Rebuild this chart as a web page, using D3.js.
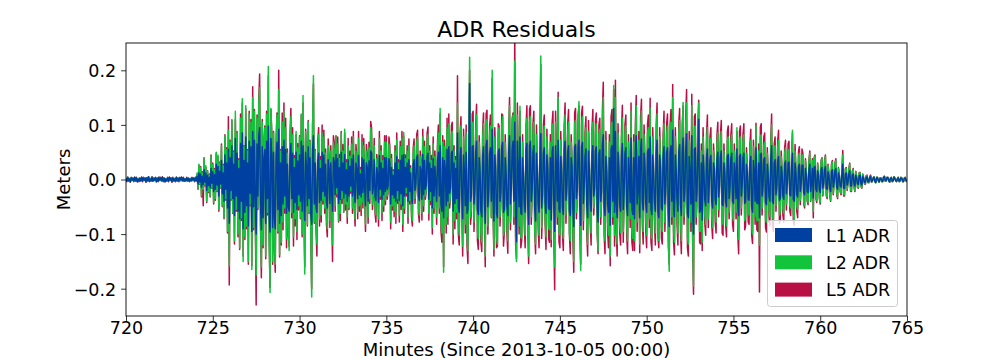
<!DOCTYPE html>
<html><head><meta charset="utf-8">
<script src="https://cdn.jsdelivr.net/npm/d3@7/dist/d3.min.js"></script>
<style>body{margin:0;background:#fff}text{font-family:"DejaVu Sans",sans-serif}</style>
</head><body><svg id="c" width="1008" height="360"></svg>
<script>
// Sample times: minutes since 2013-10-05 00:00, one sample every 0.05 min (3 s), 20 samples per row
const tStart = 720, tStep = 0.05;
// Residuals, in millimetres (converted to metres when drawn)
const L1_mm = [
2,-3,4,-2,1,-4,3,-1,2,-3,4,-2,3,-4,1,-3,2,-2,4,-3,
3,-1,2,-4,3,-2,5,-3,1,-2,4,-3,2,-1,3,-4,2,-3,4,-1,
3,-2,4,-3,2,-4,1,-2,3,-3,4,-1,2,-4,3,-2,1,-3,4,-2,
2,-3,3,-1,4,-2,3,-3,1,-2,3,-2,2,-3,1,-2,3,-1,2,-3,
3,-2,6,-8,12,-4,10,-14,6,-9,18,-5,12,-20,8,-11,4,-15,20,-7,
14,-22,9,-18,28,-10,24,-30,15,-8,35,-26,12,-40,45,-18,30,-52,55,-80,
40,-20,62,-35,28,-66,75,-30,48,-58,20,-72,66,-40,85,-90,35,-60,78,-48,
30,-85,70,-25,60,-95,88,-50,72,-40,-100,65,-30,80,95,-45,-92,60,-70,40,
55,-80,70,-35,98,-60,-96,75,45,-88,50,-70,-90,40,68,-55,92,-80,30,-66,
60,-45,72,-30,55,-62,28,-50,-58,40,66,-35,48,-60,22,-42,50,-55,34,-28,
45,-40,70,-58,62,-30,-75,50,22,-48,60,-35,40,-62,-82,55,80,-45,30,-50,
-60,35,48,-42,20,-38,50,-22,45,-30,28,-40,-52,36,20,-44,30,-25,-58,40,
32,-28,46,-15,38,-44,22,-36,50,-20,30,-34,46,-26,18,-40,36,-30,24,-12,
38,-30,45,-22,-42,30,18,-35,44,-28,10,-32,40,-24,36,-15,-48,30,22,-40,
34,-20,52,48,-26,-14,36,-30,-38,22,10,-42,44,-18,30,-36,20,-28,40,-22,
40,-18,-12,38,30,-45,22,-28,8,-34,30,-40,42,-20,18,-38,35,-26,44,-48,
46,-30,22,-14,30,-40,36,-22,12,-34,-44,28,36,-20,-8,40,45,-30,-38,24,
15,-36,46,-28,35,-18,-10,42,48,-36,30,-22,20,-52,38,-30,24,-8,-40,35,
50,-30,62,-45,-58,40,-70,35,18,-48,55,-40,60,-25,-15,48,52,-58,30,-44,
20,-35,85,-50,-60,42,58,-30,-72,45,14,-48,50,-62,-55,30,176,-40,-30,60,
62,-45,-18,50,70,-55,-64,40,12,-58,-68,44,60,-35,-80,62,72,-50,-20,48,
58,-40,92,-30,-76,45,15,-62,-70,50,56,-40,-22,58,68,-60,-54,40,10,-48,
-66,50,80,-45,-18,55,70,-40,105,-60,-114,70,22,-50,78,-62,-64,40,8,-42,
-60,55,66,-48,-82,62,70,-40,-18,50,62,-55,-76,48,14,-44,-60,38,84,-52,
-26,48,58,-40,-62,45,20,-52,-55,40,-74,50,60,-48,-95,62,28,-40,72,-55,
-60,42,16,-50,-64,55,70,-38,-12,50,62,-58,-66,40,24,-52,-86,60,64,-35,
-20,58,72,-50,-84,60,68,-44,-12,42,56,-48,-70,52,18,-40,-58,45,62,-30,
-16,52,60,-55,-78,48,54,-40,-22,62,82,-50,-66,42,10,-45,-60,40,-84,55,
62,-40,130,-60,88,-45,-70,50,14,-48,-58,42,66,-55,-20,48,58,-50,-66,40,
12,-42,76,-55,-64,40,-72,50,80,-45,-18,42,-70,55,74,-40,-56,48,22,-45,
-60,50,56,-42,78,-55,-64,45,10,-40,-58,48,72,-60,-70,45,20,-52,-56,40,
60,-45,-14,50,58,-60,-86,48,62,-40,90,-55,-68,45,16,-38,-58,50,64,-45,
-66,48,76,-40,-20,55,84,-62,-70,42,12,-45,80,-60,-100,55,58,-40,-22,48,
110,-60,-56,30,-74,45,12,-38,-48,40,56,-42,-10,36,44,-40,-52,30,18,-36,
-46,38,50,-32,-8,40,52,-45,-48,30,12,-40,-50,42,46,-35,-14,38,48,-40,
-44,30,10,-35,56,-48,-66,42,46,-30,-12,40,48,-44,-40,28,14,-36,-38,30,
42,-50,-60,35,16,-40,58,-44,-44,30,-70,46,48,-30,-12,36,40,-42,-46,28,
8,-32,-40,35,62,-40,-44,30,36,-28,-10,34,42,-38,-34,24,12,-30,-36,28,
34,-26,-8,30,32,-28,-30,22,48,-36,-40,30,10,-28,-32,24,28,-22,-8,26,
26,-24,-28,20,8,-22,-24,18,28,-22,-6,20,-34,22,24,-18,-22,16,8,-18,
-24,18,22,-16,-6,18,24,-16,-18,14,6,-16,-22,15,18,-14,-5,16,20,-14,
-18,12,5,-12,-14,10,28,-16,-16,10,12,-10,-4,10,16,-12,-12,8,10,-8,
-12,8,3,-8,-9,7,8,-8,-10,6,2,-5,-6,4,5,-4,-4,3,6,-3,
-3,2,4,-3,-5,3,3,-2,-4,2,2,-3,-3,4,5,-2,-2,3,3,-2,
-4,2,3,-3,-2,4,2,-2,-3,1,3,-3,-2,3,2,-3,-3,2,3,-2,
-3];
const L2_mm = [
3,-3,4,-3,2,-4,3,-2,3,-3,4,-3,3,-4,2,-3,3,-3,4,-3,
3,-2,3,-4,3,-3,5,-3,2,-3,4,-3,3,-2,3,-4,3,-3,4,-2,
3,-3,4,-3,3,-4,2,-3,3,-3,4,-2,3,-4,3,-3,2,-3,4,-3,
3,-3,3,-2,4,-3,3,-3,2,-3,3,-3,3,-3,2,-3,3,-2,3,-3,
4,-3,12,-16,28,-8,22,-30,12,-18,38,-10,25,-40,15,-22,8,-30,42,-14,
28,-42,18,-35,50,-20,45,-55,30,-15,62,-48,25,-70,80,-35,55,-95,90,-158,
70,-35,110,-60,50,-112,125,-55,85,-100,35,-125,112,-70,148,-150,60,-105,135,-85,
52,-150,120,-45,105,-165,150,-88,125,-70,-175,112,-52,140,168,-80,-160,105,-120,70,
95,-140,120,-60,207,-105,-207,130,80,-150,85,-120,-155,70,118,-95,165,-138,52,-115,
105,-78,125,-52,95,-108,48,-88,-130,70,115,-60,82,-105,38,-72,88,-95,58,-48,
78,-70,120,-100,154,-52,-173,88,38,-82,105,-60,70,-108,-215,95,190,-78,52,-88,
-118,60,82,-72,35,-65,85,-38,78,-52,48,-70,-90,62,35,-75,52,-42,-120,68,
55,-48,78,-26,65,-75,38,-62,85,-35,52,-58,92,-45,30,-68,62,-52,42,-20,
65,-52,78,-38,-72,52,30,-60,75,-48,18,-55,68,-42,62,-26,-82,52,38,-68,
58,-35,95,82,-45,-24,62,-52,-65,38,18,-72,75,-30,52,-62,35,-48,68,-38,
68,-30,-20,65,52,-78,38,-48,14,-58,52,-68,72,-35,30,-65,60,-45,75,-82,
86,-52,38,-24,52,-68,62,-38,20,-58,-75,48,62,-35,-14,68,78,-52,-65,42,
26,-62,78,-48,60,-30,-18,72,82,-62,52,-38,35,-88,65,-52,42,-14,-68,60,
85,-52,130,-78,-98,68,-170,60,30,-82,95,-68,102,-42,-26,82,88,-100,52,-75,
35,-60,140,-85,-102,72,98,-52,-122,78,24,-82,85,-105,-130,52,224,-68,-52,102,
105,-78,-30,85,118,-95,-108,68,20,-98,-115,75,102,-60,-140,95,110,-85,-35,82,
98,-68,200,-52,-128,78,26,-105,-118,85,95,-68,-38,98,115,-102,-92,68,18,-82,
-112,85,135,-78,-30,95,118,-68,217,-102,-150,118,38,-85,134,-105,-108,68,14,-72,
-102,95,112,-82,-140,105,115,-68,-30,85,105,-95,-118,82,24,-75,-102,65,226,-88,
-45,82,98,-68,-105,78,34,-88,-92,68,-110,85,102,-82,-160,105,48,-68,150,-95,
-102,72,28,-85,-108,95,118,-65,-20,85,105,-98,-112,68,40,-88,-150,102,108,-60,
-35,98,143,-85,-166,102,115,-75,-20,72,95,-82,-118,88,30,-68,-98,78,105,-52,
-28,88,102,-95,-130,82,92,-68,-38,105,150,-85,-112,72,18,-78,-102,68,-140,95,
105,-68,172,-102,150,-78,-118,85,24,-82,-98,72,112,-95,-35,82,98,-85,-112,68,
22,-72,125,-95,-108,68,-112,85,135,-78,-30,72,-118,95,125,-68,-95,82,38,-78,
-102,85,95,-72,130,-95,-108,78,18,-68,-98,82,120,-102,-112,78,34,-88,-95,68,
102,-78,-24,85,98,-102,-168,82,105,-68,150,-95,-115,78,28,-65,-98,85,108,-78,
-112,82,141,-68,-35,95,140,-105,-118,72,20,-78,135,-102,-195,95,98,-68,-38,82,
140,-95,-95,52,-115,78,20,-65,-82,68,95,-72,-18,62,75,-68,-88,52,30,-62,
-78,65,85,-55,-14,68,88,-78,-82,52,20,-68,-85,72,78,-60,-24,65,82,-68,
-75,52,18,-60,95,-82,-110,72,78,-52,-20,68,82,-75,-68,48,24,-62,-65,52,
72,-85,-100,60,28,-68,98,-75,-75,52,-120,78,82,-52,-20,62,68,-72,-78,48,
14,-55,-68,60,100,-68,-75,52,62,-48,-18,58,72,-65,-58,42,20,-52,-62,48,
58,-45,-14,52,55,-48,-52,38,90,-62,-75,52,18,-48,-55,42,48,-38,-14,45,
45,-42,-48,35,14,-38,-42,32,48,-38,-10,35,-58,38,42,-32,-38,28,14,-32,
-42,32,38,-28,-10,32,42,-28,-32,25,10,-28,-38,26,32,-25,-9,28,35,-25,
-32,20,9,-20,-25,18,45,-28,-28,18,20,-18,-7,18,28,-20,-20,14,18,-14,
-20,14,5,-14,-15,12,12,-12,-15,9,3,-7,-8,6,7,-5,-5,4,7,-4,
-4,3,5,-4,-6,4,4,-3,-5,3,3,-4,-4,5,6,-3,-3,4,4,-3,
-5,3,4,-4,-3,5,3,-3,-4,2,4,-4,-3,4,3,-4,-4,3,4,-3,
-4];
const L5_mm = [
3,-4,4,-3,2,-5,4,-2,3,-4,4,-3,4,-4,2,-4,3,-3,4,-4,
4,-2,3,-5,3,-3,5,-4,2,-3,5,-3,3,-2,4,-4,3,-4,4,-2,
4,-3,5,-4,3,-4,2,-3,4,-4,4,-2,3,-5,4,-3,2,-4,4,-3,
3,-4,4,-2,4,-3,4,-3,2,-3,4,-3,3,-4,2,-3,4,-2,3,-4,
4,-3,10,-18,26,-9,24,-32,14,-48,40,-12,22,-42,16,-24,10,-32,45,-16,
30,-45,20,-38,48,-22,42,-58,32,-16,65,-50,28,-72,82,-38,58,-98,115,-193,
72,-38,108,-62,52,-118,110,-58,88,-105,38,-128,120,-75,140,-140,62,-110,130,-90,
55,-155,125,-48,110,-158,170,-92,128,-72,-230,118,-55,145,193,-85,-180,110,-125,72,
98,-145,125,-65,190,-110,-198,128,85,-155,88,-125,-170,72,122,-98,200,-142,55,-120,
122,-92,140,-62,112,-125,56,-102,-122,82,130,-70,95,-122,44,-85,82,-110,66,-56,
80,-72,118,-105,140,-55,-160,92,40,-85,108,-62,72,-112,-200,98,175,-80,55,-92,
-140,70,95,-85,42,-78,100,-45,90,-62,56,-82,-105,74,42,-88,62,-50,-150,80,
68,-58,80,-32,78,-78,46,-75,88,-44,64,-60,85,-56,36,-80,75,-55,52,-25,
78,-62,88,-46,-85,64,36,-72,88,-58,22,-66,82,-52,75,-32,-95,64,46,-80,
68,-44,106,94,-55,-30,75,-62,-78,46,22,-85,88,-36,62,-75,44,-58,80,-46,
80,-36,-24,78,62,-90,46,-56,18,-68,62,-80,85,-44,36,-78,70,-55,88,-95,
80,-62,45,-30,62,-80,74,-45,25,-68,-85,58,74,-44,-18,82,90,-62,-78,52,
32,-74,92,-58,70,-36,-22,85,96,-74,62,-46,44,-100,78,-62,52,-18,-82,70,
100,-62,120,-95,-115,80,-160,72,36,-98,112,-82,120,-52,-30,98,105,-118,62,-90,
42,-72,190,-100,-120,85,115,-62,-140,92,28,-98,100,-122,-154,62,200,-82,-62,120,
125,-95,-36,100,138,-112,-128,80,24,-115,-132,90,122,-70,-160,120,127,-100,-42,98,
118,-70,185,-62,-140,95,28,-125,-122,102,98,-85,-40,120,118,-122,-95,82,20,-100,
-135,88,150,-92,-32,112,122,-82,270,-120,-145,140,40,-100,125,-125,-112,82,16,-88,
-125,98,135,-85,-154,128,135,-82,-32,102,125,-98,-136,100,26,-92,-125,80,210,-108,
-48,100,118,-82,-128,92,36,-108,-115,82,-123,102,125,-100,-202,125,50,-82,160,-115,
-125,88,30,-102,-130,98,140,-80,-22,102,128,-102,-136,82,42,-108,-170,122,130,-72,
-38,118,135,-102,-155,122,134,-92,-22,88,115,-100,-140,108,32,-82,-120,92,128,-65,
-30,108,122,-98,-136,100,112,-82,-40,125,178,-102,-136,88,20,-95,-125,82,-158,115,
128,-82,165,-122,182,-95,-140,102,26,-100,-120,88,136,-115,-38,100,118,-102,-136,82,
24,-88,140,-115,-130,82,-130,102,154,-95,-32,88,-134,115,147,-82,-118,100,40,-95,
-125,102,118,-88,149,-115,-130,95,20,-82,-120,100,140,-105,-125,95,36,-108,-118,82,
125,-95,-26,102,120,-122,-155,100,128,-82,174,-115,-138,95,30,-80,-120,102,130,-95,
-136,100,135,-82,-38,115,165,-125,-140,88,22,-95,156,-122,-210,115,120,-82,-40,100,
145,-115,-118,65,-130,95,22,-80,-102,82,118,-88,-20,78,95,-82,-108,65,32,-78,
-98,80,105,-68,-16,82,108,-98,-102,65,22,-82,-105,88,98,-72,-26,80,102,-82,
-95,65,20,-72,88,-100,-136,88,98,-65,-22,82,102,-92,-85,58,26,-78,-82,65,
92,-102,-117,72,30,-82,103,-92,-95,65,-206,96,102,-65,-22,78,85,-88,-96,58,
16,-68,-85,72,120,-82,-95,65,78,-58,-20,70,90,-80,-72,52,22,-65,-78,58,
72,-56,-16,65,70,-58,-66,46,85,-76,-84,64,20,-58,-70,52,60,-46,-16,56,
48,-45,-52,38,16,-40,-46,35,52,-40,-12,38,-70,40,45,-35,-42,30,16,-35,
-45,35,40,-30,-12,35,45,-30,-35,28,12,-30,-40,28,35,-28,-10,30,38,-28,
-35,22,10,-22,-28,20,53,-30,-30,20,22,-20,-8,20,30,-22,-22,15,20,-15,
-22,15,6,-15,-16,13,13,-13,-16,10,4,-8,-9,7,8,-6,-6,5,8,-5,
-4,3,5,-4,-6,4,4,-3,-5,3,3,-4,-4,5,6,-3,-3,4,4,-3,
-5,3,4,-4,-3,5,3,-3,-4,2,4,-4,-3,4,3,-4,-4,3,4,-3,
-4];
const seriesNames = ["L1 ADR","L2 ADR","L5 ADR"];
const seriesColors = ["#0040a0","#12c43b","#b81044"];
const xTicks = [720,725,730,735,740,745,750,755,760,765];
const yTicks = [-0.2,-0.1,0.0,0.1,0.2];

const svg = d3.select("#c");
const M = {l:126, r:907, t:43, b:316};
const x = d3.scaleLinear().domain([720,765]).range([M.l,M.r]);
const y = d3.scaleLinear().domain([-0.25,0.25]).range([M.b,M.t]);

svg.append("clipPath").attr("id","clip").append("rect")
  .attr("x",M.l).attr("y",M.t).attr("width",M.r-M.l).attr("height",M.b-M.t);

const line = d3.line().x((d,i)=>x(tStart+i*tStep)).y(d=>y(d/1000));
const data = [L1_mm, L2_mm, L5_mm];
const g = svg.append("g").attr("clip-path","url(#clip)");
[2,1,0].forEach(k=>{
  g.append("path").datum(data[k]).attr("d",line).attr("fill","none")
   .attr("stroke",seriesColors[k]).attr("stroke-width",1.5).attr("stroke-linejoin","round");
});

const fmt = v => (v<0?"\u2212":"") + Math.abs(v).toFixed(1);
const xAxis = svg.append("g").attr("transform",`translate(0,${M.b})`)
  .call(d3.axisBottom(x).tickValues(xTicks).tickFormat(d3.format("d")).tickSizeOuter(0).tickSize(4.9).tickPadding(4.9));
const yAxis = svg.append("g").attr("transform",`translate(${M.l},0)`)
  .call(d3.axisLeft(y).tickValues(yTicks).tickFormat(fmt).tickSizeOuter(0).tickSize(4.9).tickPadding(4.9));
[xAxis,yAxis].forEach(a=>{
  a.select(".domain").remove();
  a.selectAll("text").attr("font-size",17.5).attr("fill","#000").style("font-family","DejaVu Sans");
  a.selectAll("line").attr("stroke","#000").attr("stroke-width",0.8);
});
xAxis.selectAll("text").attr("y",17.5).attr("dy","0");
yAxis.selectAll("text").attr("dy","0.36em");

svg.append("rect").attr("x",M.l).attr("y",M.t).attr("width",M.r-M.l).attr("height",M.b-M.t)
  .attr("fill","none").attr("stroke","#000").attr("stroke-width",0.9);

svg.append("text").attr("x",(M.l+M.r)/2).attr("y",37).attr("text-anchor","middle")
  .attr("font-size",22).text("ADR Residuals");
svg.append("text").attr("x",(M.l+M.r)/2).attr("y",356).attr("text-anchor","middle")
  .attr("font-size",18).text("Minutes (Since 2013-10-05 00:00)");
svg.append("text").attr("transform",`translate(70,${(M.t+M.b)/2}) rotate(-90)`).attr("text-anchor","middle")
  .attr("font-size",18).text("Meters");

const lg = svg.append("g");
lg.append("rect").attr("x",767.5).attr("y",220.5).attr("width",130).attr("height",86).attr("rx",3)
  .attr("fill","#fff").attr("fill-opacity",0.8).attr("stroke","#ccc");
seriesNames.forEach((n,i)=>{
  const cy = 235 + i*27.3;
  lg.append("rect").attr("x",775).attr("y",cy-7).attr("width",37).attr("height",14).attr("fill",seriesColors[i]);
  lg.append("text").attr("x",826).attr("y",cy+6.5).attr("font-size",17.5).text(n);
});
</script></body></html>
